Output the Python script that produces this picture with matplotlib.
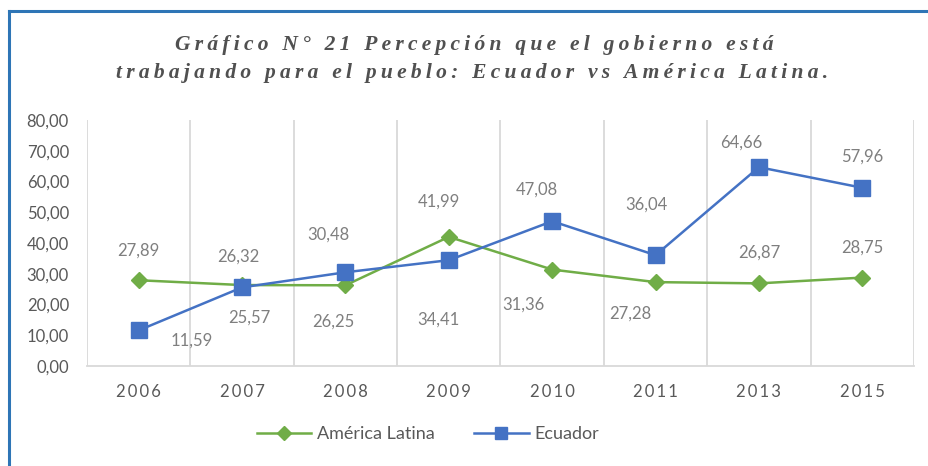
# Gráfico 21: percepción de que el gobierno trabaja para el pueblo

import matplotlib.pyplot as plt
from matplotlib.lines import Line2D

# datos
years = ["2006", "2007", "2008", "2009", "2010", "2011", "2013", "2015"]
america_latina = [27.89, 26.32, 26.25, 41.99, 31.36, 27.28, 26.87, 28.75]
ecuador = [11.59, 25.57, 30.48, 34.41, 47.08, 36.04, 64.66, 57.96]

# where each data label sits relative to its point (pixels)
al_offsets = [(0, 30), (-4, 28), (-12, -36), (-10, 35), (-29, -35), (-25, -32), (0, 31), (0, 30)]
ec_offsets = [(53, -10), (7, -30), (-17, 38), (-10, -59), (-15, 32), (-9, 51), (-18, 25), (0, 31)]

green = "#70AD47"
blue = "#4472C4"
grid_gray = "#D9D9D9"
text_gray = "#595959"
label_gray = "#7F7F7F"
sans = ["Lato", "DejaVu Sans"]

def spaced(s):
    return "\u2009".join(s)

fig = plt.figure(figsize=(9.29, 4.66), dpi=100)
ax = fig.add_axes([87 / 929, 1 - 366 / 466, (914 - 87) / 929, (366 - 120) / 466])

x = list(range(len(years)))
ax.plot(x, america_latina, color=green, lw=1.8, marker="D", ms=8,
        markeredgecolor=green, label="América Latina")
ax.plot(x, ecuador, color=blue, lw=1.8, marker="s", ms=11,
        markeredgecolor=blue, label="Ecuador")

for xi, v, off in zip(x, america_latina, al_offsets):
    ax.annotate(f"{v:.2f}".replace(".", ","), (xi, v), xytext=off,
                textcoords="offset pixels", ha="center", va="center",
                fontsize=12, color=label_gray, family=sans)
for xi, v, off in zip(x, ecuador, ec_offsets):
    ax.annotate(f"{v:.2f}".replace(".", ","), (xi, v), xytext=off,
                textcoords="offset pixels", ha="center", va="center",
                fontsize=12, color=label_gray, family=sans)

ax.set_xlim(-0.5, len(years) - 0.5)
ax.set_ylim(0, 80)
ax.set_yticks(range(0, 81, 10))
ax.set_yticklabels([f"{v:.2f}".replace(".", ",") for v in range(0, 81, 10)],
                   fontsize=12, color=text_gray, family=sans)
ax.set_xticks(x)
ax.set_xticklabels([spaced(y) for y in years], fontsize=12, color=text_gray,
                   family=sans)
ax.tick_params(length=0)
ax.tick_params(axis="y", pad=13)
ax.tick_params(axis="x", pad=13)

# vertical grid between categories
for b in [i - 0.5 for i in range(len(years) + 1)]:
    ax.axvline(b, color=grid_gray, lw=1.3, zorder=0)
for s in ["left", "right", "top"]:
    ax.spines[s].set_visible(False)
ax.spines["bottom"].set_color(grid_gray)
ax.spines["bottom"].set_linewidth(1.3)

# title
fig.text(474 / 929, 1 - 45 / 466, spaced("Gráfico N° 21 Percepción que el gobierno está"),
         ha="center", va="center", fontsize=15.5, fontweight="bold", style="italic",
         color="#505050", family=["Liberation Serif", "DejaVu Serif"])
fig.text(472 / 929, 1 - 73 / 466, spaced("trabajando para el pueblo: Ecuador vs América Latina."),
         ha="center", va="center", fontsize=15.5, fontweight="bold", style="italic",
         color="#505050", family=["Liberation Serif", "DejaVu Serif"])

# legend
handles = [Line2D([], [], color=green, lw=1.8, marker="D", ms=7),
           Line2D([], [], color=blue, lw=1.8, marker="s", ms=9)]
fig.legend(handles, ["América Latina", "Ecuador"], loc="center",
           bbox_to_anchor=(428 / 929, 1 - 434 / 466), ncol=2, frameon=False,
           handlelength=3.0, handletextpad=0.3, columnspacing=2.2,
           prop={"family": sans, "size": 13},
           labelcolor=text_gray)

# blue frame, only left and top edges are inside the picture
fig.add_artist(Line2D([8.5 / 929, 8.5 / 929], [0, 1 - 11 / 466], color="#2E75B6",
                      lw=2.2, transform=fig.transFigure))
fig.add_artist(Line2D([8.5 / 929, 1], [1 - 11 / 466, 1 - 11 / 466], color="#2E75B6",
                      lw=2.2, transform=fig.transFigure))

fig.savefig("out.png", dpi=100)
